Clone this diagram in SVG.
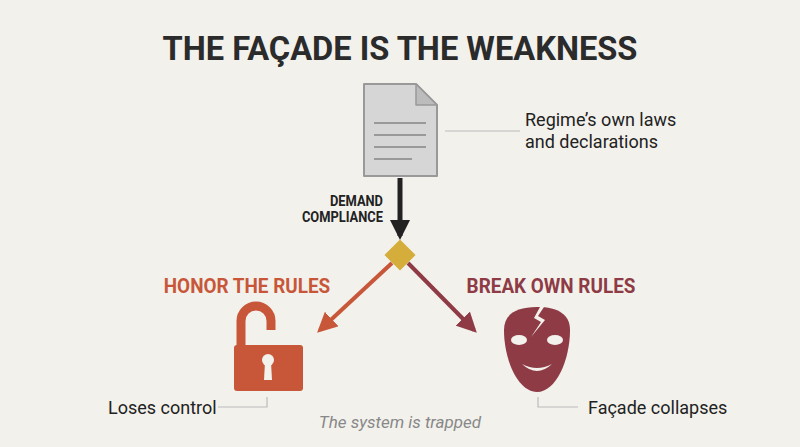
<svg xmlns="http://www.w3.org/2000/svg" width="800" height="447" viewBox="0 0 800 447">
<style>
text{font-family:"Roboto","Liberation Sans",sans-serif}
.lbl{font-size:18px;fill:#222}
.lead{stroke:#bbb;stroke-width:1.2;fill:none}
.hd{font-size:21px;font-weight:bold}
</style>
<defs>
<marker id="ab" viewBox="0 0 10 10" refX="8" refY="5" markerWidth="4" markerHeight="4" orient="auto"><path d="M0,0L10,5L0,10z" fill="#222"/></marker>
<marker id="ao" viewBox="0 0 10 10" refX="8" refY="5" markerWidth="5" markerHeight="5" orient="auto"><path d="M0,0L10,5L0,10z" fill="#c8573a"/></marker>
<marker id="ar" viewBox="0 0 10 10" refX="8" refY="5" markerWidth="5" markerHeight="5" orient="auto"><path d="M0,0L10,5L0,10z" fill="#8e3b45"/></marker>
</defs>
<rect width="800" height="447" fill="#f2f1ec"/>
<text x="400" y="60" text-anchor="middle" font-size="34" font-weight="bold" fill="#2b2b2b" transform="translate(400 0) scale(0.96 1) translate(-400 0)">THE FAÇADE IS THE WEAKNESS</text>
<g id="connectors">
<line x1="400" y1="178" x2="400" y2="236" stroke="#222" stroke-width="5" marker-end="url(#ab)"/>
<line x1="392" y1="263" x2="320" y2="330" stroke="#c8573a" stroke-width="4" marker-end="url(#ao)"/>
<line x1="408" y1="263" x2="474" y2="330" stroke="#8e3b45" stroke-width="4" marker-end="url(#ar)"/>
<path class="lead" d="M445 131H520"/>
<path class="lead" d="M218 407H267V397"/>
<path class="lead" d="M538 397V407H578"/>
</g>
<g id="doc">
<path d="M364 84H416L437 105V176H364Z" fill="#d6d6d6" stroke="#999" stroke-width="2" stroke-linejoin="round"/>
<path d="M416 84V105H437Z" fill="#bcbcbc" stroke="#999" stroke-width="1.5" stroke-linejoin="round"/>
<g stroke="#999" stroke-width="2"><line x1="374" y1="123" x2="426" y2="123"/><line x1="374" y1="135" x2="426" y2="135"/><line x1="374" y1="147" x2="426" y2="147"/><line x1="374" y1="159" x2="412" y2="159"/></g>
<text class="lbl" x="525" y="126">Regime’s own laws</text>
<text class="lbl" x="525" y="148">and declarations</text>
</g>
<g id="demand" transform="translate(383 0) scale(0.92 1) translate(-383 0)"><text x="383" y="206" text-anchor="end" font-size="14" font-weight="bold" fill="#222">DEMAND</text><text x="383" y="222" text-anchor="end" font-size="14" font-weight="bold" fill="#222">COMPLIANCE</text></g>
<g id="diamond"><rect x="389" y="244" width="22" height="22" fill="#d4ad3a" transform="rotate(45 400 255)"/></g>
<g id="honor">
<text class="hd" x="247" y="293" text-anchor="middle" fill="#c8573a" transform="translate(247 0) scale(0.9 1) translate(-247 0)">HONOR THE RULES</text>
<path d="M241 346V321A15 15 0 0 1 271 321V330" fill="none" stroke="#c8573a" stroke-width="9"/>
<rect x="234" y="345" width="69" height="46" rx="3" fill="#c8573a"/>
<circle cx="268" cy="360" r="6" fill="#f2f1ec"/><path d="M265 362H271L272 380H264Z" fill="#f2f1ec"/>
<text class="lbl" x="108" y="414">Loses control</text>
</g>
<g id="break">
<text class="hd" x="551" y="293" text-anchor="middle" fill="#8e3b45" transform="translate(551 0) scale(0.9 1) translate(-551 0)">BREAK OWN RULES</text>
<path d="M537 307C515 307 504 315 504 330C504 360 518 392 537 392C556 392 570 360 570 330C570 315 559 307 537 307Z" fill="#8e3b45"/>
<path d="M540 307L534 318L541 322L531 337L545 320L538 316L544 307Z" fill="#f2f1ec"/>
<ellipse cx="519" cy="340" rx="8" ry="5" fill="#f2f1ec"/><ellipse cx="555" cy="340" rx="8" ry="5" fill="#f2f1ec"/>
<path d="M522 364Q537 378 552 364Q537 372 522 364Z" fill="#f2f1ec"/>
<text class="lbl" x="588" y="414">Façade collapses</text>
</g>
<text x="400" y="428" text-anchor="middle" font-size="17" font-style="italic" fill="#888">The system is trapped</text>
</svg>
